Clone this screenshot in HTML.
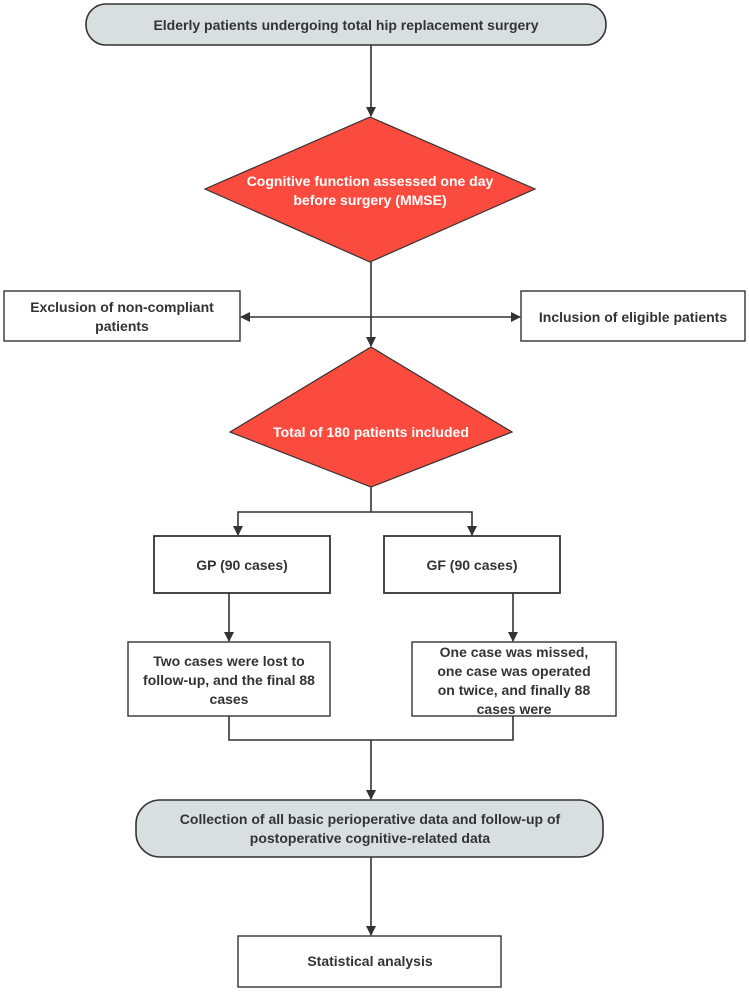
<!DOCTYPE html>
<html><head><style>
body{margin:0;background:#fff;}
svg text{font-family:"Liberation Sans",sans-serif;font-weight:bold;font-size:14px;fill:#333;}
</style></head><body>
<svg width="749" height="992" viewBox="0 0 749 992" xmlns="http://www.w3.org/2000/svg">
<defs><marker id="a" markerWidth="10" markerHeight="10" refX="9" refY="5" orient="auto" markerUnits="userSpaceOnUse"><path d="M0,0 L10,5 L0,10 z" fill="#333"/></marker></defs>
<g stroke="#333" stroke-width="1.6" fill="none">
<line x1="371" y1="45" x2="371" y2="116" marker-end="url(#a)"/>
<line x1="371" y1="262" x2="371" y2="346" marker-end="url(#a)"/>
<line x1="371" y1="317" x2="241" y2="317" marker-end="url(#a)"/>
<line x1="371" y1="317" x2="520" y2="317" marker-end="url(#a)"/>
<path d="M371,487 V512 H238 V535" marker-end="url(#a)"/>
<path d="M371,512 H472 V535" marker-end="url(#a)"/>
<line x1="229" y1="593" x2="229" y2="641" marker-end="url(#a)"/>
<line x1="513" y1="593" x2="513" y2="641" marker-end="url(#a)"/>
<path d="M229,716 V740 H513 V716"/>
<line x1="371" y1="740" x2="371" y2="799" marker-end="url(#a)"/>
<line x1="371" y1="857" x2="371" y2="935" marker-end="url(#a)"/>
</g>
<rect x="86" y="4" width="520" height="41" rx="20" fill="#d9dfe1" stroke="#333" stroke-width="1.6"/>
<text x="346" y="30" text-anchor="middle">Elderly patients undergoing total hip replacement surgery</text>
<polygon points="370,117 535,189 370,262 205,189" fill="#fb4a3e" stroke="#333" stroke-width="1.2"/>
<text x="370" y="186" text-anchor="middle" style="fill:#fff">Cognitive function assessed one day</text>
<text x="370" y="205" text-anchor="middle" style="fill:#fff">before surgery (MMSE)</text>
<rect x="4" y="291" width="236" height="50" fill="#fff" stroke="#333" stroke-width="1.4"/>
<text x="122" y="312" text-anchor="middle">Exclusion of non-compliant</text>
<text x="122" y="331" text-anchor="middle">patients</text>
<rect x="521" y="291" width="224" height="50" fill="#fff" stroke="#333" stroke-width="1.4"/>
<text x="633" y="322" text-anchor="middle">Inclusion of eligible patients</text>
<polygon points="371,347 512,432 371,487 230,432" fill="#fb4a3e" stroke="#333" stroke-width="1.2"/>
<text x="371" y="437" text-anchor="middle" style="fill:#fff">Total of 180 patients included</text>
<rect x="154" y="536" width="176" height="57" fill="#fff" stroke="#333" stroke-width="1.8"/>
<text x="242" y="570" text-anchor="middle">GP (90 cases)</text>
<rect x="384" y="536" width="176" height="57" fill="#fff" stroke="#333" stroke-width="1.8"/>
<text x="472" y="570" text-anchor="middle">GF (90 cases)</text>
<rect x="128" y="642" width="202" height="74" fill="#fff" stroke="#333" stroke-width="1.4"/>
<text x="229" y="666" text-anchor="middle">Two cases were lost to</text>
<text x="229" y="685" text-anchor="middle">follow-up, and the final 88</text>
<text x="229" y="704" text-anchor="middle">cases</text>
<rect x="412" y="642" width="204" height="74" fill="#fff" stroke="#333" stroke-width="1.4"/>
<text x="514" y="657" text-anchor="middle">One case was missed,</text>
<text x="514" y="676" text-anchor="middle">one case was operated</text>
<text x="514" y="695" text-anchor="middle">on twice, and finally 88</text>
<text x="514" y="714" text-anchor="middle">cases were</text>
<rect x="136" y="800" width="467" height="57" rx="24" fill="#d9dfe1" stroke="#333" stroke-width="1.6"/>
<text x="370" y="824" text-anchor="middle">Collection of all basic perioperative data and follow-up of</text>
<text x="370" y="843" text-anchor="middle">postoperative cognitive-related data</text>
<rect x="238" y="936" width="263" height="51" fill="#fff" stroke="#333" stroke-width="1.4"/>
<text x="370" y="966" text-anchor="middle">Statistical analysis</text>
</svg>
</body></html>
